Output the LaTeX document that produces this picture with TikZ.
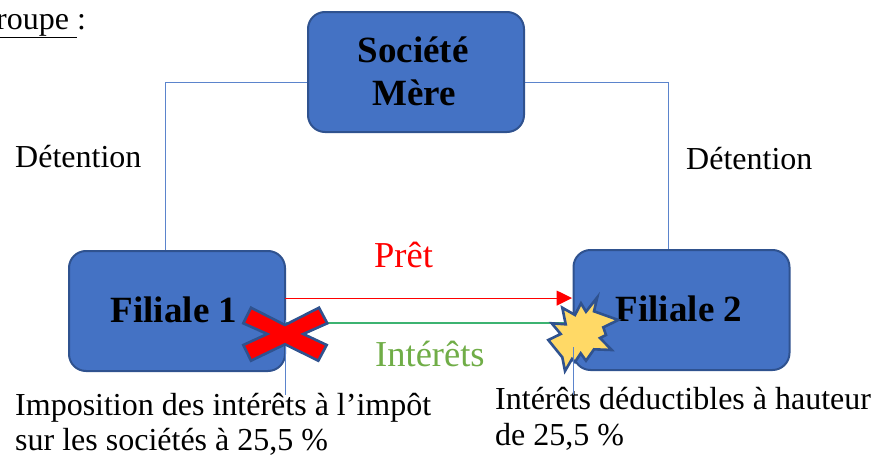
\documentclass[tikz,border=0pt]{standalone}
\usepackage{fontspec}
\setmainfont{Liberation Serif}
\definecolor{boxfill}{HTML}{4472C4}
\definecolor{boxedge}{HTML}{2F528F}
\definecolor{wire}{HTML}{5B84CC}
\definecolor{greenlab}{HTML}{70AD47}
\definecolor{greenline}{HTML}{3CB371}
\definecolor{starfill}{HTML}{FFD966}
\tikzset{
  entity/.style={draw=boxedge,line width=2pt,fill=boxfill,rounded corners=17pt,minimum width=216pt,minimum height=120pt,inner sep=0pt,align=center,font=\fontsize{37}{43}\selectfont\bfseries},
  wireline/.style={draw=wire,line width=1pt},
  lab/.style={inner sep=0pt,anchor=base west,font=\fontsize{32}{38}\selectfont},
  biglab/.style={inner sep=0pt,anchor=base west,font=\fontsize{36.5}{40}\selectfont},
  symbolshape/.style={draw=boxedge,line width=2.6pt,line join=miter},
}
\begin{document}
\begin{tikzpicture}[x=1pt,y=-1pt]
\useasboundingbox (0,0) rectangle (876,455);
\node[lab] (groupe) at (-4,29) {\underline{roupe\ }:};
\coordinate (c1) at (165,82);
\coordinate (c2) at (668,82);
\coordinate (d1) at (285,395);
\coordinate (d2) at (573,395);
\coordinate (mereW) at (308,82);
\coordinate (mereE) at (524,82);
\coordinate (f1N) at (165,251);
\coordinate (f2N) at (668,250);
\draw[wireline] (mereW) -- (c1) -- (f1N);
\draw[wireline] (mereE) -- (c2) -- (f2N);
\node[entity] (mere) at (416,72) {\hspace*{-6pt}\raisebox{2pt}{Société}\\\hspace*{-4pt}\raisebox{2pt}{Mère}};
\node[entity] (f1) at (177,311) {\hspace*{-6pt}\raisebox{2pt}{Filiale 1}};
\node[entity] (f2) at (681.5,310) {\hspace*{-5pt}\raisebox{2pt}{Filiale 2}};
\node[lab] (det1) at (15,167) {Détention};
\node[lab] (det2) at (686,169) {Détention};
\node[biglab,text=red] (pret) at (374,267) {Prêt};
\node[biglab,text=greenlab] (int) at (375,366) {Intérêts};
\node[lab] (imp1) at (15,415) {Imposition des intérêts à l’impôt};
\node[lab] (imp2) at (15,450) {sur les sociétés à 25,5 \%};
\node[lab] (ded1) at (495,409) {Intérêts déductibles à hauteur};
\node[lab] (ded2) at (495,445) {de 25,5 \%};
\coordinate (f1r1) at (285,298);
\coordinate (f2l1) at (572,298);
\coordinate (f1r2) at (285,323);
\coordinate (f2l2) at (574,323);
\draw[red,line width=1pt] (f1r1) -- (558,298);
\fill[red] (556.7,290.5) -- (f2l1) -- (556.7,305.7) -- cycle;
\draw[greenline,line width=1.2pt] (f1r2) -- (f2l2);
\draw[wireline] (285,320) -- (d1);
% cross
\draw[symbolshape,fill=red]
 (251,307.7) -- (285,325) -- (319,307.7) -- (327.3,323.3) -- (303.3,334) -- (326.7,345) -- (318.3,360.7) -- (285,344.3) -- (251,360.7) -- (243.3,345) -- (267.3,334) -- (243.3,323.3) -- cycle;
% explosion
\draw[symbolshape,fill=starfill]
 (597.3,297.3) -- (594,311.3) -- (618.3,320) -- (603.3,327.3) -- (606,335) -- (600,338) -- (611.7,350) -- (594,349.3) -- (586,360.7) -- (580.7,353.3) -- (575,362) -- (572,359) -- (565,371) -- (562.3,357.3) -- (548.3,340) -- (560.7,334) -- (551.7,323.3) -- (565.7,324.3) -- (562.3,307.7) -- (575,315) -- (581,303.3) -- (586,311.7) -- cycle;
\draw[wireline] (573,347) -- (d2);
\end{tikzpicture}
\end{document}
